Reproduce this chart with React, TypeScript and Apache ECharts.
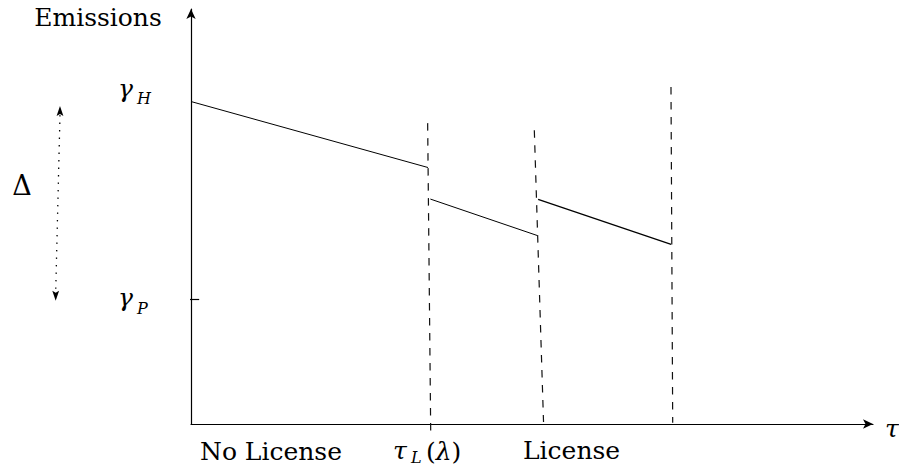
import React, { useEffect, useRef } from "react";
import * as echarts from "echarts";

// ---- data (axis units: x = τ, y = emissions) ----
const noLicensePath = [[0, 77.7], [34.75, 61.8]];
const licensePathA = [[35.1, 54.2], [50.8, 45.4]];
const licensePathB = [[50.9, 54.1], [70.4, 43.3]];
const cutoffLines = [
  [[34.7, 72.5], [35.15, -2.2]],
  [[50.34, 70.8], [51.69, 0.5]],
  [[70.38, 81.2], [70.63, 0.3]],
];
const gammaP = 30;
const gammaTick = [[-0.9, gammaP], [1.2, gammaP]];
const deltaArrow = [[-19.21, 76.6], [-19.84, 29.7]];

// ---- labels ----
const yTitle = "Emissions";
const xTitle = "τ";
const levelBase = ["γ", "γ"];
const levelSub = ["H", "P"];
const xTickLabels = ["No License", "License"];
const tauLParts = ["τ", "L", "λ"];
const deltaLabel = "Δ";

const FAM = "DejaVu Serif";
const MAIN = 25;
const SUB = 16;

function txt(text: string, x: number, baseline: number, size: number, italic: boolean, align = "left") {
  return {
    type: "text",
    x,
    y: baseline - 0.346 * size,
    silent: true,
    style: {
      text,
      font: (italic ? "italic " : "") + size + "px " + FAM,
      fill: "#000",
      align,
      verticalAlign: "middle",
    },
  };
}

export default function App() {
  const ref = useRef<HTMLDivElement>(null);
  useEffect(() => {
    document.body.style.margin = "0";
    const chart = echarts.init(ref.current!, null, { renderer: "svg" });
    const base = {
      type: "line",
      symbol: "none",
      showSymbol: false,
      clip: false,
      silent: true,
    };
    const arrowHead = (tip: number[], dir: number) => {
      // dir = -1 pointing up, +1 pointing down
      const [x, y] = tip;
      return {
        type: "polygon",
        shape: {
          points: [
            [x, y],
            [x - 3.4, y - dir * 10],
            [x, y - dir * 8],
            [x + 3.4, y - dir * 10],
          ],
        },
        style: { fill: "#000" },
      };
    };
    const series: any[] = [
      { ...base, data: noLicensePath, lineStyle: { color: "#000", width: 1 } },
      { ...base, data: licensePathA, lineStyle: { color: "#000", width: 1 } },
      { ...base, data: licensePathB, lineStyle: { color: "#000", width: 1.3 } },
      ...cutoffLines.map((c) => ({
        ...base,
        data: c,
        lineStyle: { color: "#111", width: 1.2, type: [7.5, 7.5] },
      })),
      { ...base, data: gammaTick, lineStyle: { color: "#000", width: 1.2 } },
      {
        type: "custom",
        silent: true,
        clip: false,
        coordinateSystem: "cartesian2d",
        data: [[deltaArrow[0][0], deltaArrow[0][1], deltaArrow[1][0], deltaArrow[1][1]]],
        renderItem: (params: any, api: any) => {
          const a = api.coord([api.value(0), api.value(1)]);
          const b = api.coord([api.value(2), api.value(3)]);
          return {
            type: "group",
            children: [
              {
                type: "line",
                shape: { x1: a[0], y1: a[1] + 9, x2: b[0], y2: b[1] - 9 },
                style: { stroke: "#000", lineWidth: 1.3, lineDash: [1.3, 6.2] },
              },
              arrowHead(a, -1),
              arrowHead(b, 1),
            ],
          };
        },
      },
    ];
    chart.setOption({
      animation: false,
      grid: { left: 191, right: 26, top: 9, bottom: 48 },
      xAxis: {
        type: "value",
        min: 0,
        max: 100,
        axisLine: {
          show: true,
          symbol: ["none", "arrow"],
          symbolSize: [7, 10],
          lineStyle: { color: "#000", width: 1.2 },
        },
        axisTick: { show: false },
        axisLabel: { show: false },
        splitLine: { show: false },
      },
      yAxis: {
        type: "value",
        min: 0,
        max: 100,
        axisLine: {
          show: true,
          symbol: ["none", "arrow"],
          symbolSize: [7, 10],
          lineStyle: { color: "#000", width: 1.2 },
        },
        axisTick: { show: false },
        axisLabel: { show: false },
        splitLine: { show: false },
      },
      series,
      graphic: [
        txt(yTitle, 98, 26, MAIN, false, "center"),
        txt(deltaLabel, 22, 195, 27, false, "center"),
        txt(levelBase[0], 118, 97, MAIN, true),
        txt(levelSub[0], 137, 104, SUB, true),
        txt(levelBase[1], 118, 306, MAIN, true),
        txt(levelSub[1], 137, 314, SUB, true),
        txt(xTitle, 885, 437, MAIN, true),
        txt(xTickLabels[0], 200, 460, MAIN, false),
        txt(xTickLabels[1], 523, 459.5, MAIN, false),
        txt(tauLParts[0], 393, 459, MAIN, true),
        txt(tauLParts[1], 411, 463, SUB, true),
        {
          type: "text",
          x: 426,
          y: 460 - 0.346 * MAIN,
          silent: true,
          style: {
            text: "({i|" + tauLParts[2] + "})",
            font: MAIN + "px " + FAM,
            fill: "#000",
            align: "left",
            verticalAlign: "middle",
            rich: { i: { font: "italic " + MAIN + "px " + FAM, fill: "#000" } },
          },
        },
      ],
    });
    return () => chart.dispose();
  }, []);
  return (
    <div
      ref={ref}
      style={{ position: "fixed", left: 0, top: 0, width: 899, height: 472, background: "#fff" }}
    />
  );
}
